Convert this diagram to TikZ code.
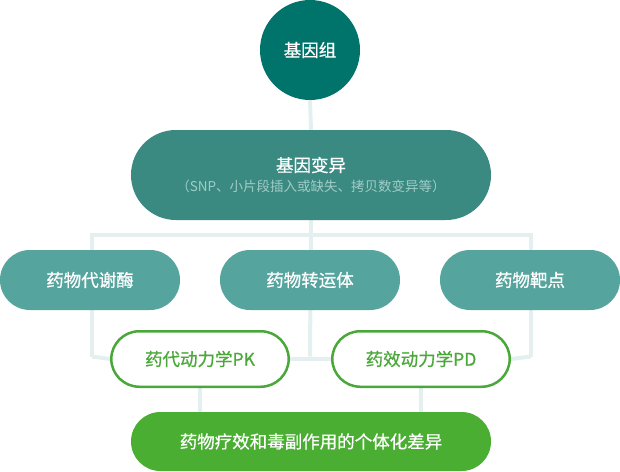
\documentclass[tikz,border=0pt]{standalone}
\usepackage{fontspec}
\setmainfont{Noto Sans CJK SC}
\newfontfamily\medfont{Noto Sans CJK SC}[FakeBold=0.7]
\usetikzlibrary{backgrounds}
\definecolor{cgenome}{HTML}{00736B}
\definecolor{cvar}{HTML}{3A8A82}
\definecolor{cmid}{HTML}{55A49E}
\definecolor{cgreen}{HTML}{4AAE32}
\definecolor{cgtext}{HTML}{4AA83A}
\definecolor{cline}{HTML}{E4F0F0}
\definecolor{csub}{HTML}{A0CCC7}
\tikzset{
  x=1pt, y=-1pt,
  bigfont/.style={font=\medfont\fontsize{17.5}{21}\selectfont},
  pill/.style={rounded corners=#1, inner sep=0pt, text=white, bigfont},
  midbox/.style={pill=29.9pt, fill=cmid, minimum width=180pt, minimum height=60pt},
  outbox/.style={rounded corners=28pt, inner sep=0pt, draw=cgtext, line width=2.5pt, fill=white,
    text=cgtext, bigfont, minimum width=177.5pt, minimum height=55.5pt},
  conn/.style={draw=cline, line width=4pt},
}
\begin{document}
\begin{tikzpicture}
\useasboundingbox (0,0) rectangle (620,471);
\node[circle, fill=cgenome, minimum size=100pt, inner sep=0pt, text=white, bigfont] (genome) at (310,50) {基因组};
\node[pill=44.9pt, fill=cvar, minimum width=360pt, minimum height=90pt, align=center] (var) at (311,175)
  {基因变异\\[-1pt]{\normalfont\fontsize{13.5}{17}\selectfont\color{csub}（SNP、小片段插入或缺失、拷贝数变异等）}};
\node[midbox] (m1) at (90,280) {药物代谢酶};
\node[midbox] (m2) at (310,280) {药物转运体};
\node[midbox] (m3) at (530,280) {药物靶点};
\node[outbox] (pk) at (200,359) {药代动力学PK};
\node[outbox] (pd) at (421,359) {药效动力学PD};
\node[pill=29.4pt, fill=cgreen, minimum width=360pt, minimum height=59pt] (eff) at (311,441.5) {药物疗效和毒副作用的个体化差异};
\coordinate (tl) at (92,235);
\coordinate (tm) at (310,235);
\coordinate (tr) at (531,235);
\coordinate (bl) at (92,356.5);
\coordinate (bm) at (310,356.5);
\coordinate (br) at (531,356.5);
\begin{scope}[on background layer]
\draw[conn] (genome.south) -- (var.north);
\draw[conn] (var.south) -- (bm);
\draw[conn] (bl) -- (tl) -- (tr) -- (br);
\draw[conn] (bl) -- (pk.west);
\draw[conn] (pk.east) -- (pd.west);
\draw[conn] (br) -- (pd.east);
\draw[conn] (pk.south) -- (pk.south |- eff.north);
\draw[conn] (pd.south) -- (pd.south |- eff.north);
\end{scope}
\end{tikzpicture}
\end{document}
